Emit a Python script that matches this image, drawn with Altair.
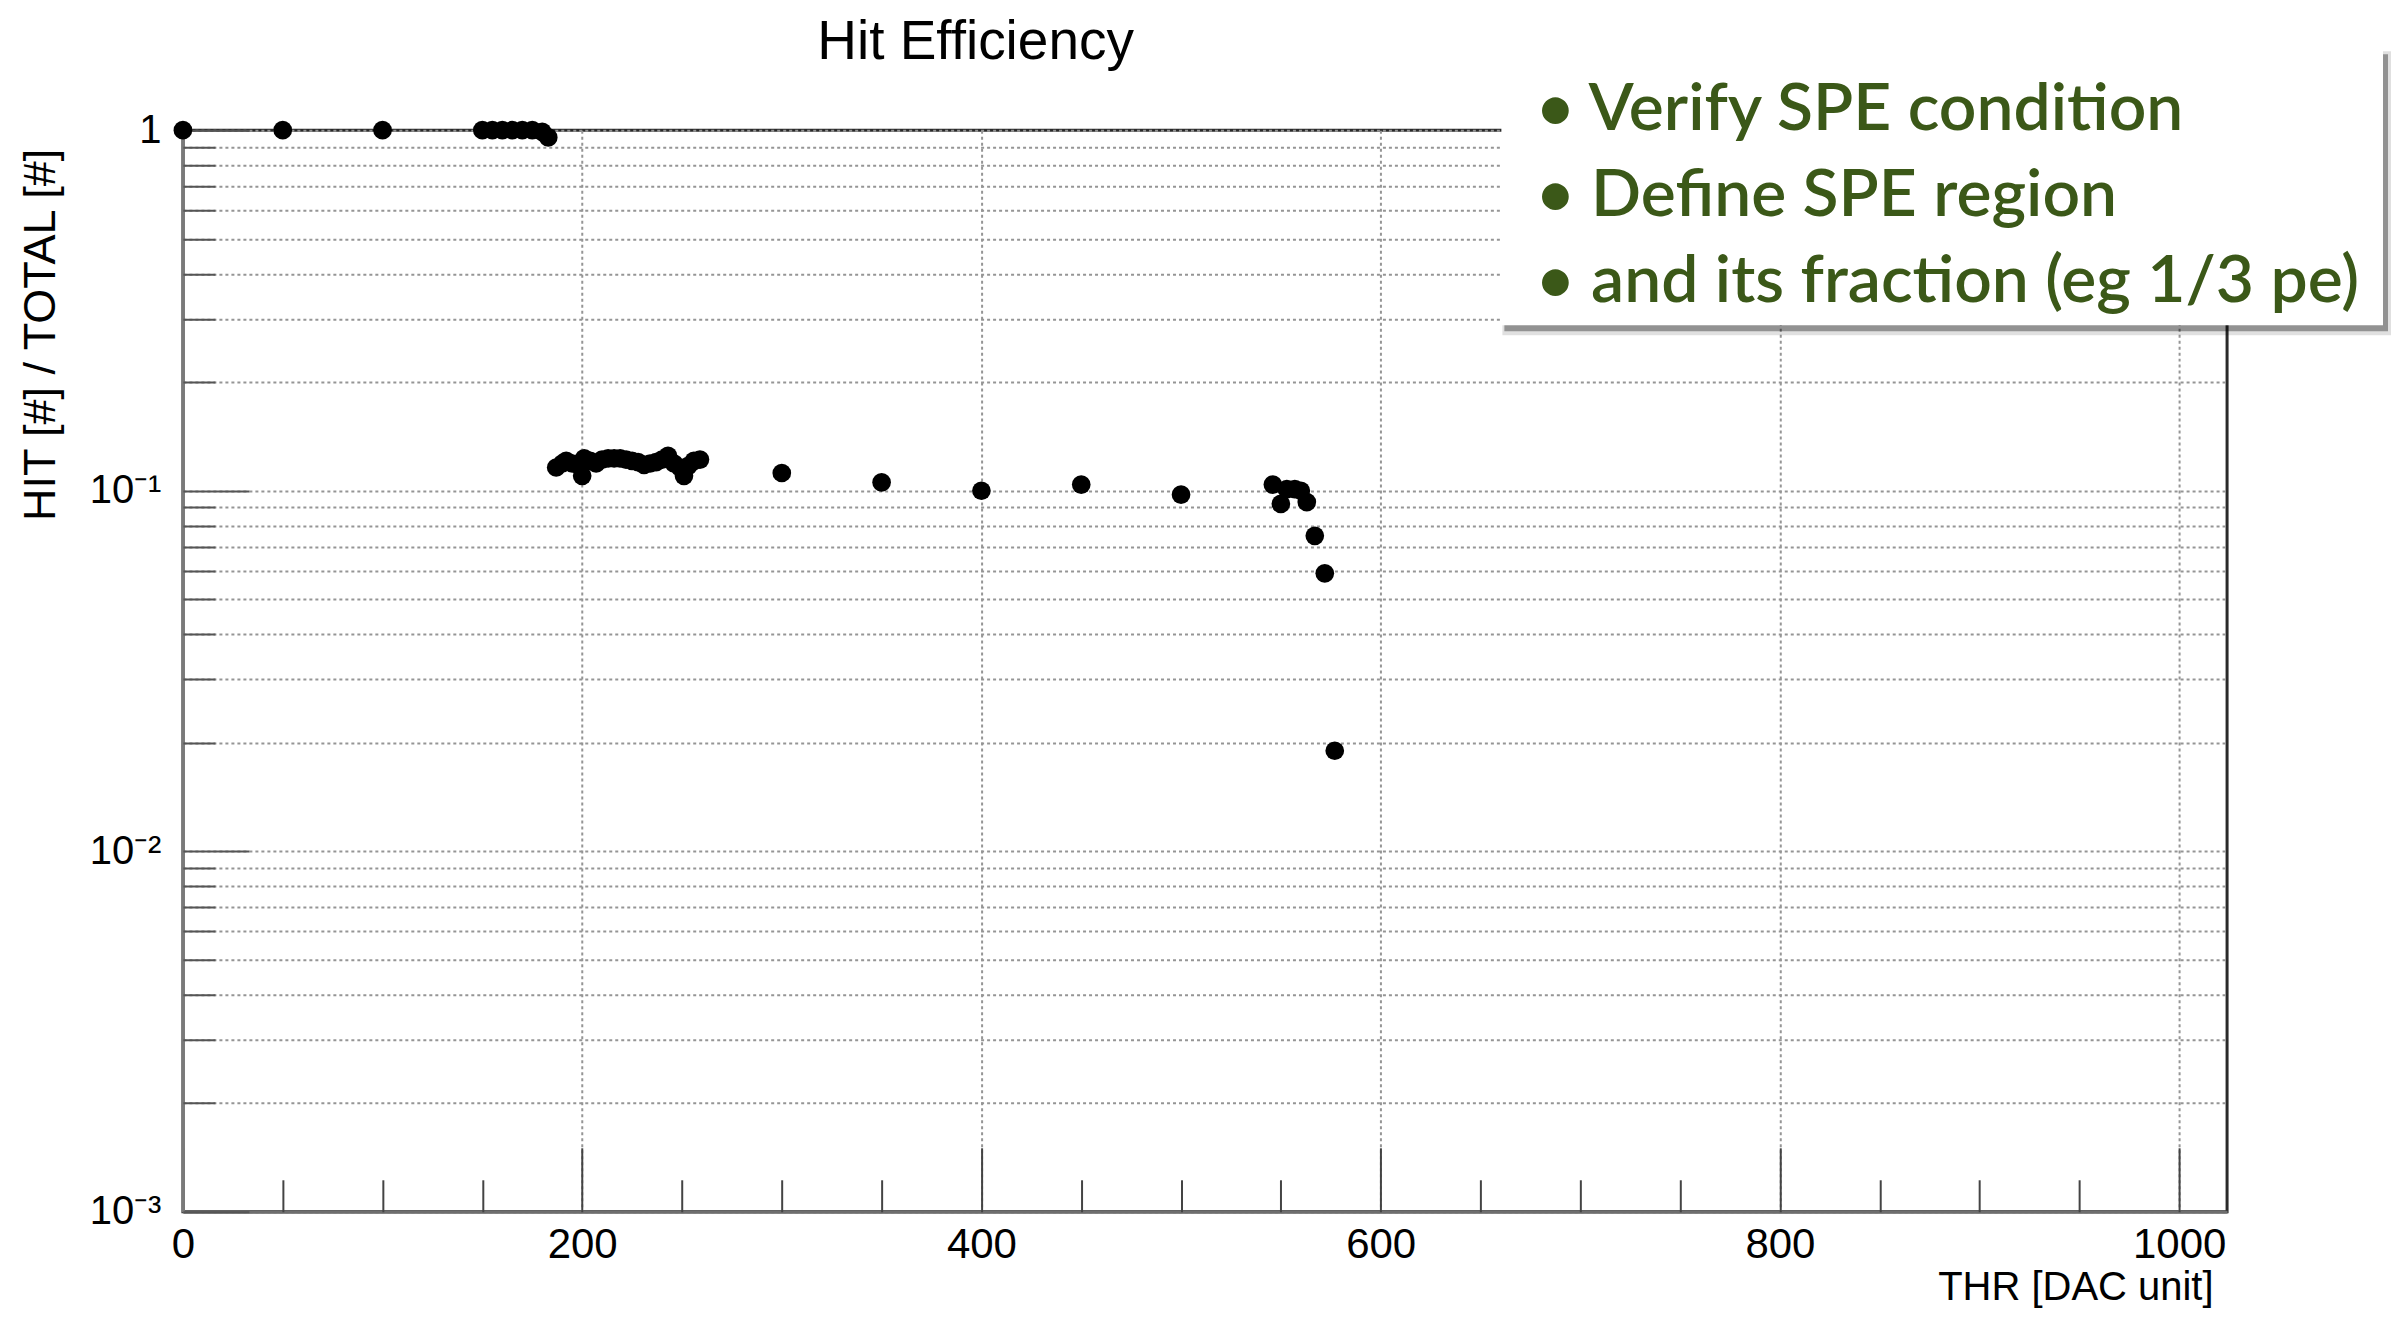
import altair as alt
import pandas as pd

# ---------------- data ----------------
thr = [0, 50, 100, 150, 155, 160, 165, 170, 175, 180, 183,
       187, 190, 192, 195, 198, 200, 201, 204, 207, 210, 213, 216, 219, 222,
       225, 228, 231, 234, 237, 240, 243, 246, 249, 251, 253, 256, 259,
       300, 350, 400, 450, 500,
       546, 550, 553, 557, 560, 563, 567, 572, 577]
eff = [1.0, 1.0, 1.0, 1.0, 1.0, 1.0, 1.0, 1.0, 1.0, 0.99, 0.955,
       0.116, 0.119, 0.121, 0.119, 0.118, 0.110, 0.123, 0.121, 0.119, 0.122,
       0.123, 0.123, 0.123, 0.122, 0.121, 0.120, 0.118, 0.119, 0.120, 0.122,
       0.125, 0.119, 0.116, 0.110, 0.117, 0.121, 0.122,
       0.112, 0.1055, 0.100, 0.104, 0.0975,
       0.104, 0.092, 0.101, 0.101, 0.100, 0.093, 0.075, 0.059, 0.019]

x_label_values = [0, 200, 400, 600, 800, 1000]
x_tick_values = [0, 50, 100, 150, 200, 250, 300, 350, 400, 450, 500, 550,
                 600, 650, 700, 750, 800, 850, 900, 950, 1000]
y_label_values = [0.001, 0.01, 0.1, 1]
y_label_texts = ["10\u207b\u00b3", "10\u207b\u00b2", "10\u207b\u00b9", "1"]
y_tick_values = [0.001, 0.002, 0.003, 0.004, 0.005, 0.006, 0.007, 0.008, 0.009,
                 0.01, 0.02, 0.03, 0.04, 0.05, 0.06, 0.07, 0.08, 0.09,
                 0.1, 0.2, 0.3, 0.4, 0.5, 0.6, 0.7, 0.8, 0.9, 1]

chart_title = "Hit Efficiency"
x_title = "THR [DAC unit]"
y_title = "HIT [#] / TOTAL [#]"
notes = ["\u2022 Verify SPE condition",
         "\u2022 Define SPE region",
         "\u2022 and its fraction (eg 1/3 pe)"]

# ---------------- layout ----------------
W, H = 2045, 1082
FONT = "Liberation Sans"
GREEN = "#3b5818"

df = pd.DataFrame({"thr": thr, "eff": eff})
one = pd.DataFrame({"k": [0]})

xs = alt.Scale(domain=[0, 1024], nice=False, zero=False)
ys = alt.Scale(type="log", domain=[0.001, 1], nice=False)

y_label_expr = " : ".join(
    f"datum.value == {v} ? '{t}'" for v, t in zip(y_label_values, y_label_texts)
) + " : ''"
x_major_test = "indexof([" + ",".join(str(v) for v in x_label_values) + "], datum.value) >= 0"
y_major_test = "indexof([" + ",".join(str(v) for v in y_label_values) + "], datum.value) >= 0"

grid_style = dict(grid=True, gridColor="#959595", gridDash=[3, 3], gridWidth=2)

points = alt.Chart(df).mark_circle(size=350, color="black", opacity=1).encode(
    x=alt.X("thr:Q", scale=xs, axis=alt.Axis(
        orient="bottom", values=x_label_values, format="d", ticks=False, tickSize=0,
        labelFont=FONT, labelFontSize=42, labelColor="black", labelPadding=13,
        labelFlush=False, labelOverlap=False, labelBaseline="top",
        domainColor="#6e6e6e", domainWidth=3,
        title=x_title, titleFont=FONT, titleFontSize=40, titleFontWeight="normal",
        titleColor="black", titleAnchor="end", titleAlign="right",
        titleBaseline="alphabetic", titleX=W - 14, titleY=88,
        **grid_style)),
    y=alt.Y("eff:Q", scale=ys, axis=alt.Axis(
        orient="left", values=y_tick_values, labelExpr=y_label_expr,
        ticks=False, tickSize=0,
        labelFont=FONT, labelFontSize=40, labelColor="black", labelPadding=22,
        labelFlush=False, labelOverlap=False, labelBaseline="middle",
        domainColor="#7a7a7a", domainWidth=3,
        title=y_title, titleFont=FONT, titleFontSize=45, titleFontWeight="normal",
        titleColor="black", titleAngle=270, titleAlign="right",
        titleBaseline="middle", titleX=-142, titleY=18,
        **grid_style)),
)

inward_ticks = alt.Chart(df).mark_circle(size=350, opacity=0).encode(
    x=alt.X("thr:Q", scale=xs, axis=alt.Axis(
        orient="top", offset=-H, values=x_tick_values, labels=False,
        domain=False, grid=False, ticks=True, tickColor="#444", tickWidth=2,
        tickSize={"condition": {"test": x_major_test, "value": 64}, "value": 32},
        title=None)),
    y=alt.Y("eff:Q", scale=ys, axis=alt.Axis(
        orient="right", offset=-W, values=y_tick_values, labels=False,
        domain=False, grid=False, ticks=True, tickColor="#555", tickWidth=2,
        tickSize={"condition": {"test": y_major_test, "value": 66}, "value": 32},
        title=None)),
)

# callout box (x/y in plot pixels)
bx0, bx1, by0, by1 = 1319, 2201, -80, 195
shadow_soft = alt.Chart(one).mark_rect(color="black", opacity=0.12).encode(
    x=alt.value(bx0 + 1), x2=alt.value(bx1 + 8), y=alt.value(by0 + 1), y2=alt.value(by1 + 10))
shadow = alt.Chart(one).mark_rect(color="black", opacity=0.35).encode(
    x=alt.value(bx0 + 3), x2=alt.value(bx1 + 5), y=alt.value(by0 + 4), y2=alt.value(by1 + 6))
box = alt.Chart(one).mark_rect(color="white", opacity=1).encode(
    x=alt.value(bx0), x2=alt.value(bx1), y=alt.value(by0), y2=alt.value(by1))
note_text = alt.Chart(one).mark_text(
    font="Lato", fontSize=66, fontWeight=600, color=GREEN, align="left",
    baseline="alphabetic", lineHeight=86,
).encode(x=alt.value(1354), y=alt.value(0), text=alt.value(notes))

title_text = alt.Chart(one).mark_text(
    font=FONT, fontSize=55, color="black", align="center", baseline="alphabetic",
).encode(x=alt.value(793), y=alt.value(-71), text=alt.value(chart_title))

chart = alt.layer(
    points, inward_ticks, shadow_soft, shadow, box, note_text, title_text
).resolve_axis(
    x="independent", y="independent"
).properties(
    width=W, height=H,
    autosize=alt.AutoSizeParams(type="none"),
    padding={"left": 175, "top": 122, "right": 165, "bottom": 97},
    background="white",
).configure_view(
    stroke="#2a2a2a", strokeWidth=3
)

chart.save("out.html", embed_options={"renderer": "svg", "actions": False})
